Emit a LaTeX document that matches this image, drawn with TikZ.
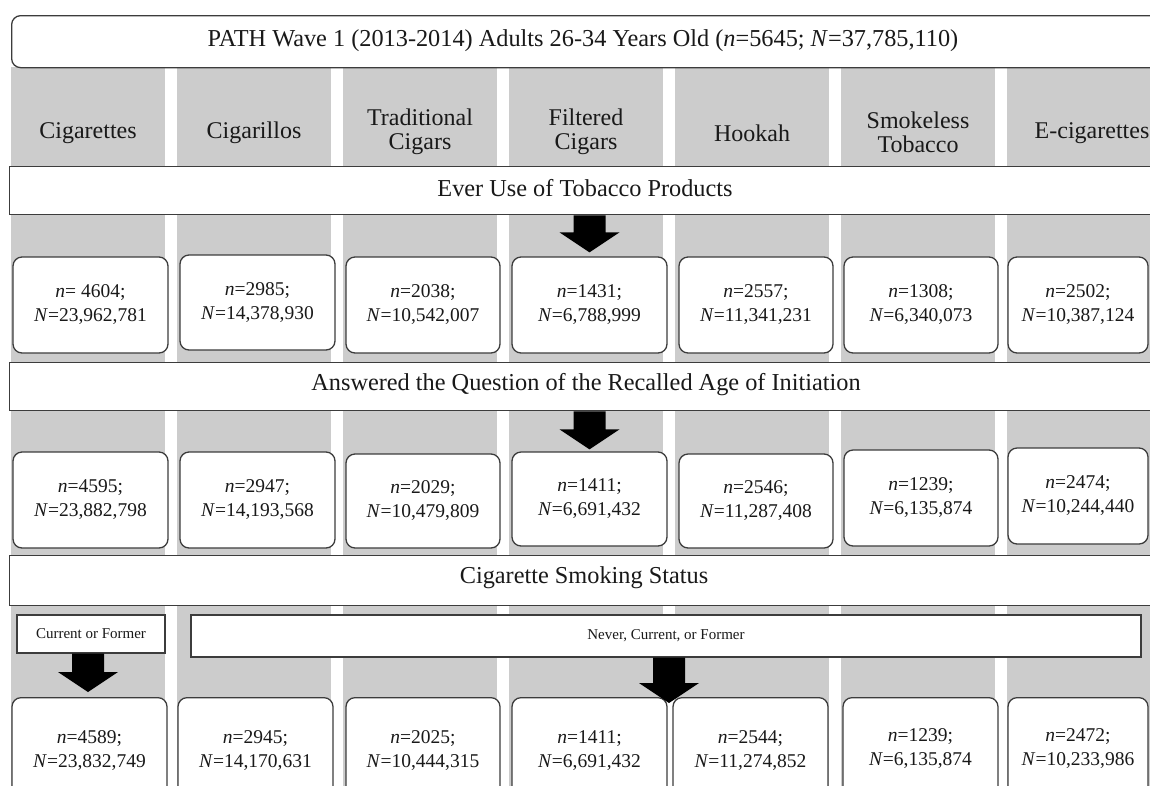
\documentclass[tikz,border=0pt]{standalone}
\usepackage{fontspec}
\setmainfont{Liberation Serif}
\usetikzlibrary{calc}
\definecolor{colgray}{RGB}{204,204,204}
\definecolor{linec}{RGB}{60,60,60}
\definecolor{txt}{RGB}{25,25,25}
\newcommand{\nN}[2]{\textit{n}=#1;\\\textit{N}=#2}
\begin{document}
\begin{tikzpicture}[x=1pt,y=-1pt,
  every node/.style={text=txt, inner sep=0pt, align=center},
  roundbox/.style={draw=linec, line width=1.3pt, fill=white, rounded corners=9pt,
     font=\fontsize{19.5}{24}\selectfont},
  band/.style={draw=linec, line width=1.3pt, fill=white, font=\fontsize{24.3}{26}\selectfont},
  head/.style={font=\fontsize{24}{24}\selectfont},
  smallbox/.style={draw=linec, line width=1.3pt, fill=white, font=\fontsize{15}{16}\selectfont},
  numtext/.style={font=\fontsize{19.5}{24}\selectfont},
  blockarrow/.style={to path={let \p1=(\tikztostart), \p2=(\tikztotarget) in
     (\x1-16pt,\y1) -- (\x1+16pt,\y1) -- (\x1+16pt,\y2+20pt) -- (\x1+30pt,\y2+20pt)
     -- (\x2,\y2) -- (\x1-30pt,\y2+20pt) -- (\x1-16pt,\y2+20pt) -- cycle}},
  arr/.style={fill=black, draw=none}
]
\useasboundingbox (0,0) rectangle (1150,785);
\clip (0,0) rectangle (1150,785);
\fill[white] (0,0) rectangle (1150,785);
% grey columns
\foreach \i in {0,...,6} \fill[colgray] (11+166*\i,67) rectangle ++(154,725);

% title
\node[roundbox, minimum width=1160, minimum height=52, anchor=north west] (title) at (11,15) {};
\node (titletext) at (583,41) {\fontsize{24.3}{26}\selectfont PATH Wave 1 (2013-2014) Adults 26-34 Years Old (\textit{n}=5645; \textit{N}=37,785,110)};

% headings
\node[head] (h1) at (88,133) {Cigarettes};
\node[head] (h2) at (254,133) {Cigarillos};
\node[head] (h3) at (420,132) {Traditional\\Cigars};
\node[head] (h4) at (586,132) {Filtered\\Cigars};
\node[head] (h5) at (752,133) {Hookah};
\node[head] (h6) at (918,132) {Smokeless\\Tobacco};
\node[head] (h7) at (1092,133) {E-cigarettes};

% band 1
\node[band, minimum width=1160, minimum height=48, anchor=north west] (band1) at (9,166) {};
\node[band, draw=none, fill=none] (band1t) at (585,188) {Ever Use of Tobacco Products};

% row 1
\node[roundbox, minimum width=155, minimum height=96] (r1c1) at (90.5,305) {\textit{n}= 4604;\\\textit{N}=23,962,781};
\node[roundbox, minimum width=155, minimum height=95] (r1c2) at (257.5,302.5) {\nN{2985}{14,378,930}};
\node[roundbox, minimum width=154, minimum height=96] (r1c3) at (423,305) {\nN{2038}{10,542,007}};
\node[roundbox, minimum width=155, minimum height=96] (r1c4) at (589.5,305) {\nN{1431}{6,788,999}};
\node[roundbox, minimum width=154, minimum height=96] (r1c5) at (756,305) {\nN{2557}{11,341,231}};
\node[roundbox, minimum width=154, minimum height=96] (r1c6) at (921,305) {\nN{1308}{6,340,073}};
\node[roundbox, minimum width=140, minimum height=96] (r1c7) at (1078,305) {\nN{2502}{10,387,124}};
\path[arr, blockarrow] (band1.south -| r1c4.north) to ([yshift=4pt]r1c4.north);

% band 2
\node[band, minimum width=1160, minimum height=48, anchor=north west] (band2) at (9,362) {};
\node[band, draw=none, fill=none] (band2t) at (586,385) {Answered the Question of the Recalled Age of Initiation};

% row 2
\node[roundbox, minimum width=155, minimum height=96] (r2c1) at (90.5,500) {\nN{4595}{23,882,798}};
\node[roundbox, minimum width=155, minimum height=96] (r2c2) at (257.5,500) {\nN{2947}{14,193,568}};
\node[roundbox, minimum width=154, minimum height=94] (r2c3) at (423,501) {\nN{2029}{10,479,809}};
\node[roundbox, minimum width=155, minimum height=94] (r2c4) at (589.5,499) {\nN{1411}{6,691,432}};
\node[roundbox, minimum width=154, minimum height=94] (r2c5) at (756,501) {\nN{2546}{11,287,408}};
\node[roundbox, minimum width=154, minimum height=96] (r2c6) at (921,498) {\nN{1239}{6,135,874}};
\node[roundbox, minimum width=140, minimum height=96] (r2c7) at (1078,496) {\nN{2474}{10,244,440}};
\path[arr, blockarrow] (band2.south -| r2c4.north) to ([yshift=2pt]r2c4.north);

% band 3
\node[band, minimum width=1160, minimum height=50, anchor=north west] (band3) at (9,555) {};
\node[band, draw=none, fill=none] (band3t) at (584,578) {Cigarette Smoking Status};

% sub boxes
\node[smallbox, minimum width=148, minimum height=38] (cur) at (91,634) {Current or Former};
\node[smallbox, minimum width=950, minimum height=42] (nev) at (666,636) {Never, Current, or Former};

% bottom row
\node[roundbox, minimum width=155, minimum height=110, anchor=north] (r3c1) at (89.5,697) {};
\node[roundbox, minimum width=155, minimum height=110, anchor=north] (r3c2) at (255.5,697) {};
\node[roundbox, minimum width=154, minimum height=110, anchor=north] (r3c3) at (423,697) {};
\node[roundbox, minimum width=155, minimum height=110, anchor=north] (r3c4) at (589.5,697) {};
\node[roundbox, minimum width=155, minimum height=110, anchor=north] (r3c5) at (750.5,697) {};
\node[roundbox, minimum width=155, minimum height=110, anchor=north] (r3c6) at (920.5,697) {};
\node[roundbox, minimum width=140, minimum height=110, anchor=north] (r3c7) at (1078,697) {};
\node[numtext] (t3c1) at (89.5,751) {\nN{4589}{23,832,749}};
\node[numtext] (t3c2) at (255.5,751) {\nN{2945}{14,170,631}};
\node[numtext] (t3c3) at (423,751) {\nN{2025}{10,444,315}};
\node[numtext] (t3c4) at (589.5,751) {\nN{1411}{6,691,432}};
\node[numtext] (t3c5) at (750.5,751) {\nN{2544}{11,274,852}};
\node[numtext] (t3c6) at (920.5,749) {\nN{1239}{6,135,874}};
\node[numtext] (t3c7) at (1078,749) {\nN{2472}{10,233,986}};

\coordinate (tipL) at (88,692);
\coordinate (tipM) at (669,703);
\path[arr, blockarrow] (cur.south -| tipL) to (tipL);
\path[arr, blockarrow] (nev.south -| tipM) to (tipM);
\end{tikzpicture}
\end{document}
